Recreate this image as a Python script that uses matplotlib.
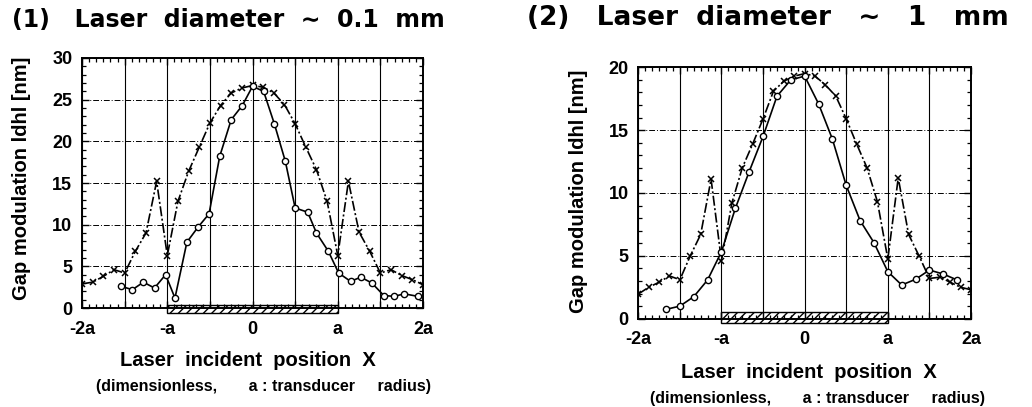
import matplotlib
matplotlib.use("Agg")
import matplotlib.pyplot as plt
from matplotlib.ticker import MultipleLocator
from matplotlib.patches import Rectangle

plt.rcParams['font.family'] = ['Liberation Sans', 'DejaVu Sans']
plt.rcParams['font.weight'] = 'bold'

# x positions in units of a (transducer radius)
x_cross = [-2.0, -1.875, -1.75, -1.625, -1.5, -1.375, -1.25, -1.125, -1.0, -0.875, -0.75,
           -0.625, -0.5, -0.375, -0.25, -0.125, 0.0, 0.125, 0.25, 0.375, 0.5, 0.625, 0.75,
           0.875, 1.0, 1.125, 1.25, 1.375, 1.5, 1.625, 1.75, 1.875, 2.0]

# (1) laser diameter ~0.1 mm
y1_cross = [2.9, 3.1, 3.8, 4.6, 4.2, 6.8, 9.0, 15.2, 6.3, 12.8, 16.4, 19.3, 22.2, 24.3, 25.8,
            26.4, 26.7, 26.5, 25.8, 24.4, 22.1, 19.3, 16.6, 12.8, 6.3, 15.2, 9.1, 6.8, 4.2,
            4.6, 3.9, 3.4, 2.8]
x1_circle = [-1.54, -1.41, -1.28, -1.15, -1.02, -0.91, -0.77, -0.64, -0.51, -0.385, -0.25,
             -0.12, 0.0, 0.13, 0.256, 0.385, 0.5, 0.647, 0.75, 0.89, 1.01, 1.15, 1.27, 1.40,
             1.54, 1.66, 1.78, 1.94]
y1_circle = [2.6, 2.2, 3.1, 2.4, 4.0, 1.2, 7.9, 9.7, 11.3, 18.2, 22.6, 24.3, 26.6, 26.0,
             22.1, 17.6, 12.0, 11.5, 9.0, 6.8, 4.2, 3.2, 3.7, 3.0, 1.5, 1.4, 1.7, 1.4]

# (2) laser diameter ~1 mm
y2_cross = [1.96, 2.5, 2.9, 3.4, 3.1, 5.0, 6.7, 11.1, 4.6, 9.2, 12.0, 13.9, 15.9, 18.1, 18.9,
            19.3, 19.5, 19.3, 18.6, 17.7, 15.9, 13.9, 12.0, 9.3, 4.75, 11.2, 6.7, 5.0, 3.2,
            3.3, 2.9, 2.5, 2.3]
x2_circle = [-1.667, -1.5, -1.333, -1.167, -1.0, -0.833, -0.667, -0.5, -0.333, -0.167, 0.0,
             0.167, 0.333, 0.5, 0.667, 0.833, 1.0, 1.167, 1.333, 1.5, 1.667, 1.833]
y2_circle = [0.74, 1.0, 1.75, 3.08, 5.33, 8.78, 11.7, 14.5, 17.7, 19.0, 19.3, 17.1, 14.3,
             10.6, 7.8, 6.05, 3.74, 2.68, 3.13, 3.87, 3.55, 3.08]

xtick_pos = [-2, -1.5, -1, -0.5, 0, 0.5, 1, 1.5, 2]
xtick_labels = ['-2a', '', '-a', '', '0', '', 'a', '', '2a']
transducer = [-1.0, 1.0]

fig = plt.figure(figsize=(10.32, 4.07), dpi=100)
ax1 = fig.add_axes([0.0795, 0.2432, 0.3304, 0.6143])
ax2 = fig.add_axes([0.6185, 0.2170, 0.3224, 0.6176])

cross_ls = (0, (6, 1.5, 1.2, 1.5))


def draw_panel(ax, yc, xo, yo, ymax, bar):
    ax.plot(x_cross, yc, color='black', lw=1.2, ls=cross_ls, marker='x', ms=4.5, mew=1.1)
    ax.plot(xo, yo, color='black', lw=1.2, ls='-', marker='o', ms=4.5, mew=1.0,
            mfc='white')
    ax.set_xlim(-2, 2)
    ax.set_ylim(0, ymax)
    ax.set_xticks(xtick_pos)
    ax.set_xticklabels(xtick_labels)
    ax.xaxis.set_minor_locator(MultipleLocator(1 / 12))
    ax.yaxis.set_major_locator(MultipleLocator(5))
    ax.yaxis.set_minor_locator(MultipleLocator(1))
    ax.tick_params(which='both', direction='in', top=True, right=True, labelsize=13)
    ax.tick_params(which='major', length=5, width=1.0)
    ax.tick_params(which='minor', length=3, width=0.9)
    ax.tick_params(axis='x', pad=9)
    ax.tick_params(axis='y', pad=7)
    ax.grid(True, axis='x', which='major', color='black', lw=0.8, ls='-')
    ax.grid(True, axis='y', which='major', color='black', lw=0.7, ls=(0, (6, 2, 1, 2)))
    for s in ax.spines.values():
        s.set_linewidth(1.4)
    # hatched bar marking the transducer
    ax.add_patch(Rectangle((transducer[0], bar[0]), transducer[1] - transducer[0],
                           bar[1] - bar[0], fill=False, hatch='////', lw=1.0,
                           clip_on=False, zorder=5))


draw_panel(ax1, y1_cross, x1_circle, y1_circle, 30, (-0.64, 0.36))
draw_panel(ax2, y2_cross, x2_circle, y2_circle, 20, (-0.32, 0.51))

# titles (wider face, spaced like the original)
fig.text(12 / 1032, 1 - 20 / 407, '(1)   Laser  diameter  \u223c  0.1  mm', fontsize=17,
         family='DejaVu Sans', fontweight='bold', va='center', ha='left')
fig.text(527 / 1032, 1 - 18 / 407, '(2)   Laser  diameter   \u223c   1   mm', fontsize=19,
         family='DejaVu Sans', fontweight='bold', va='center', ha='left')

# y labels
fig.text(22 / 1032, 1 - 178 / 407, 'Gap modulation ldhl [nm]', rotation=90, fontsize=14.5,
         fontweight='bold', va='center', ha='center')
fig.text(578 / 1032, 1 - 191 / 407, 'Gap modulation ldhl [nm]', rotation=90, fontsize=14.5,
         fontweight='bold', va='center', ha='center')

# x labels
fig.text(248 / 1032, 1 - 361 / 407, 'Laser  incident  position  X', fontsize=14.5,
         fontweight='bold', va='center', ha='center')
fig.text(264 / 1032, 1 - 387 / 407, '(dimensionless,       a : transducer     radius)',
         fontsize=11.5, fontweight='bold', va='center', ha='center')
fig.text(809 / 1032, 1 - 372 / 407, 'Laser  incident  position  X', fontsize=14.5,
         fontweight='bold', va='center', ha='center')
fig.text(818 / 1032, 1 - 398 / 407, '(dimensionless,       a : transducer     radius)',
         fontsize=11.5, fontweight='bold', va='center', ha='center')

fig.savefig('out.png', dpi=100)
